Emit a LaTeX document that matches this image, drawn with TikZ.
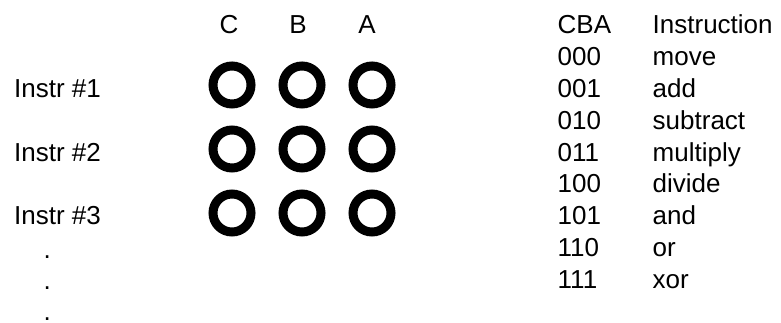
\documentclass[tikz,border=0pt]{standalone}
\usepackage{fontspec}
\setmainfont{Liberation Sans}
\usetikzlibrary{positioning}

\begin{document}
\begin{tikzpicture}[x=1pt, y=1pt,
    txt/.style={inner sep=0pt, anchor=base west, font=\fontsize{26}{30}\selectfont},
    ring/.style={draw, circle, line width=9pt, minimum size=38pt, inner sep=0pt, outer sep=0pt}]
\useasboundingbox (0,0) rectangle (781,-323);

% Bit headers
\node[txt, anchor=base] (hdrc) at (229,-34) {C};
\node[txt, anchor=base] (hdrb) at (298,-34) {B};
\node[txt, anchor=base] (hdra) at (367,-34) {A};

% Instruction rows
\node[txt] (instr1) at (14,-97.6) {Instr \#1};
\node[txt] (instr2) at (14,-161.2) {Instr \#2};
\node[txt] (instr3) at (14,-224.8) {Instr \#3};
\node[txt] (dot1) at (43.5,-258) {.};
\node[txt] (dot2) at (43.5,-289.8) {.};
\node[txt] (dot3) at (43.5,-320.5) {.};

% Bit rings
\node[ring] (c1) at (232,-85) {};
\node[ring, right=32pt of c1] (b1) {};
\node[ring, right=32pt of b1] (a1) {};
\node[ring, below=26pt of c1] (c2) {};
\node[ring, right=32pt of c2] (b2) {};
\node[ring, right=32pt of b2] (a2) {};
\node[ring, below=26pt of c2] (c3) {};
\node[ring, right=32pt of c3] (b3) {};
\node[ring, right=32pt of b3] (a3) {};

% Opcode table
\node[txt] (cba) at (557.5,-34) {CBA};
\node[txt] (opname) at (652.5,-34) {Instruction};
\node[txt] (code0) at (557.5,-65.8) {000};
\node[txt] (op0) at (652.5,-65.8) {move};
\node[txt] (code1) at (557.5,-97.6) {001};
\node[txt] (op1) at (652.5,-97.6) {add};
\node[txt] (code2) at (557.5,-129.4) {010};
\node[txt] (op2) at (652.5,-129.4) {subtract};
\node[txt] (code3) at (557.5,-161.2) {011};
\node[txt] (op3) at (652.5,-161.2) {multiply};
\node[txt] (code4) at (557.5,-193) {100};
\node[txt] (op4) at (652.5,-193) {divide};
\node[txt] (code5) at (557.5,-224.8) {101};
\node[txt] (op5) at (652.5,-224.8) {and};
\node[txt] (code6) at (557.5,-256.6) {110};
\node[txt] (op6) at (652.5,-256.6) {or};
\node[txt] (code7) at (557.5,-288.4) {111};
\node[txt] (op7) at (652.5,-288.4) {xor};
\end{tikzpicture}
\end{document}
